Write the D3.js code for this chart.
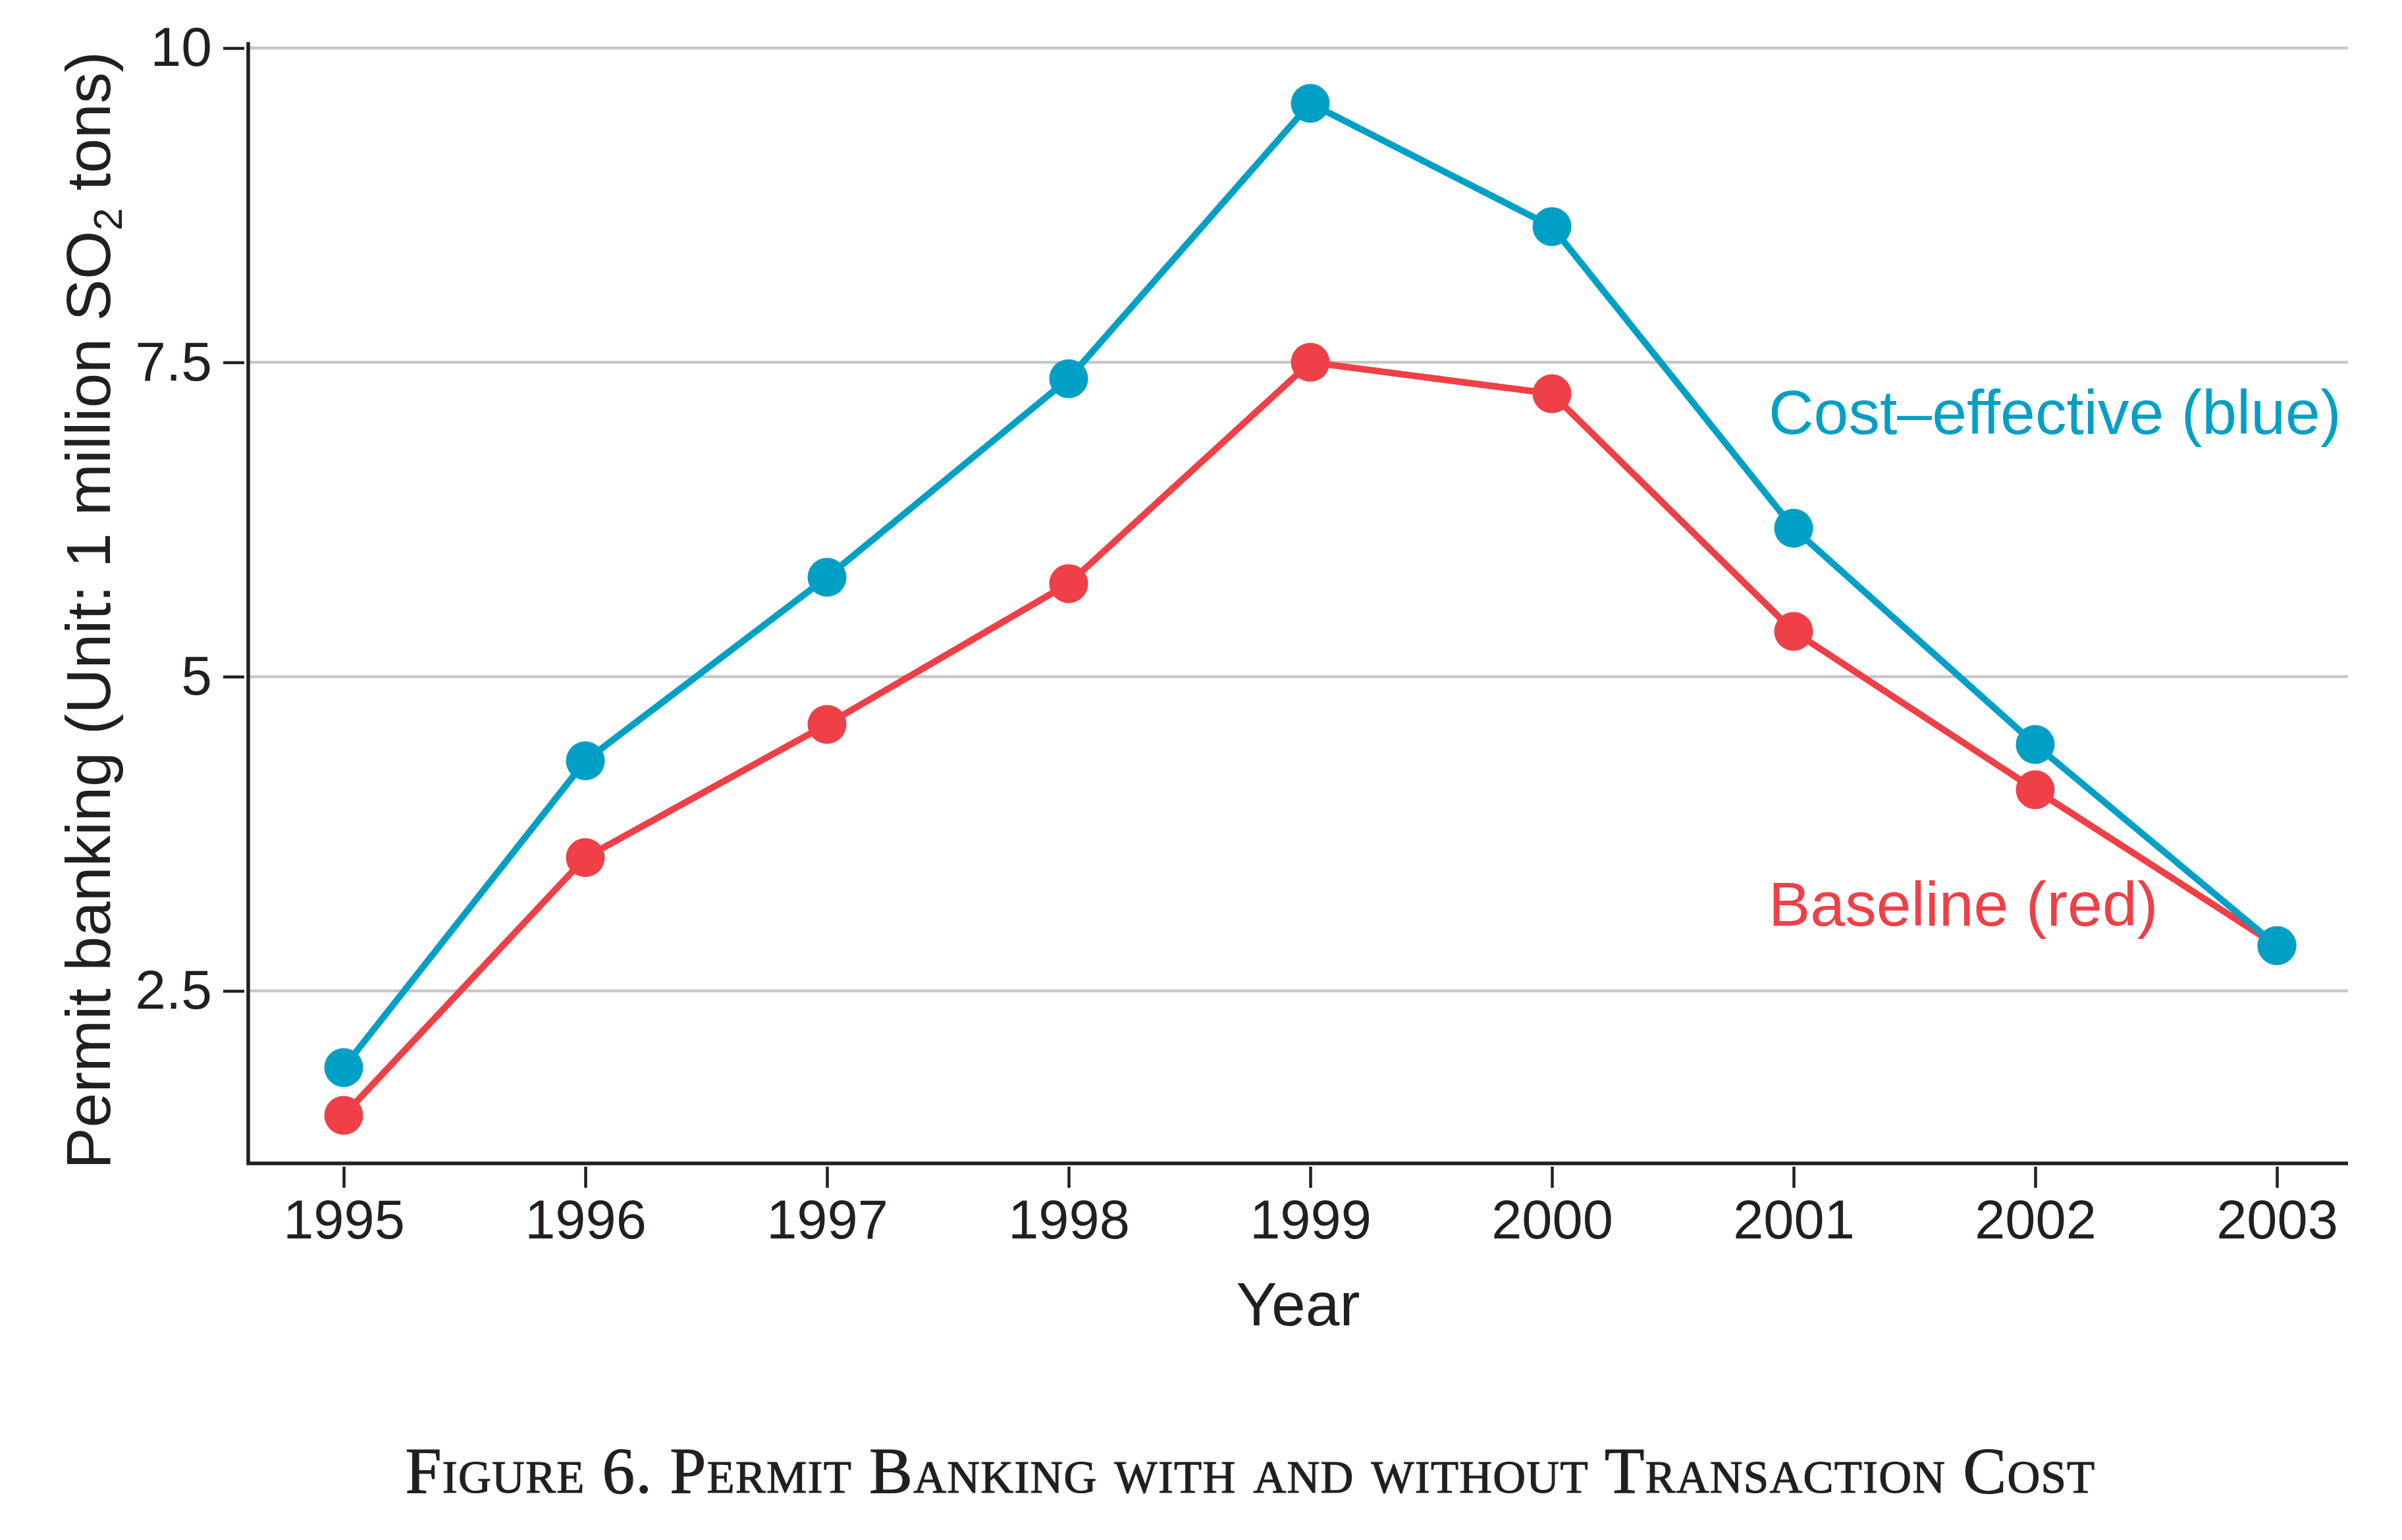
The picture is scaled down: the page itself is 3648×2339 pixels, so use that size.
<!DOCTYPE html>
<html>
<head>
<meta charset="utf-8">
<script src="https://cdn.jsdelivr.net/npm/d3@7"></script>
<style>
  body { margin: 0; background: #fff; }
  svg { display: block; }
</style>
</head>
<body>
<svg id="chart" width="3648" height="2339"></svg>
<script>
// Data
const years = [1995, 1996, 1997, 1998, 1999, 2000, 2001, 2002, 2003];
const costEffective = [1.89, 4.33, 5.79, 7.37, 9.56, 8.58, 6.18, 4.46, 2.86];
const baseline = [1.51, 3.56, 4.62, 5.74, 7.50, 7.25, 5.36, 4.10, 2.86];
const yTicks = [2.5, 5, 7.5, 10];
const yTickLabels = ["2.5", "5", "7.5", "10"];

const blue = "#00a0c6";
const red = "#ee4046";
const ink = "#231f20";
const font = "'Liberation Sans', Arial, Helvetica, sans-serif";

const svg = d3.select("#chart");

// plot frame
const plotLeft = 377, plotRight = 3566, plotTop = 64, plotBottom = 1767;

const x = d3.scaleLinear()
    .domain([1995, 2003])
    .range([522, 3458]);

const y = d3.scaleLinear()
    .domain([2.5, 10])
    .range([1505, 73]);

// gridlines
svg.append("g")
    .selectAll("line")
    .data(yTicks)
    .enter()
    .append("line")
    .attr("x1", plotLeft + 2)
    .attr("x2", plotRight)
    .attr("y1", d => y(d))
    .attr("y2", d => y(d))
    .attr("stroke", "#c8c8c8")
    .attr("stroke-width", 4.5);

// y axis (ticks sit a little off the axis line)
const yAxis = svg.append("g")
    .attr("transform", `translate(${plotLeft - 6},0)`)
    .call(d3.axisLeft(y)
        .tickValues(yTicks)
        .tickFormat((d, i) => yTickLabels[i])
        .tickSize(32)
        .tickPadding(17));
yAxis.select(".domain").remove();
yAxis.selectAll(".tick line").attr("stroke", ink).attr("stroke-width", 4.5);
yAxis.selectAll(".tick text")
    .attr("fill", ink)
    .style("font-family", font)
    .style("font-size", "84px");

// x axis
const xAxis = svg.append("g")
    .attr("transform", `translate(0,${plotBottom + 5})`)
    .call(d3.axisBottom(x)
        .tickValues(years)
        .tickFormat(d3.format("d"))
        .tickSize(32)
        .tickPadding(18));
xAxis.select(".domain").remove();
xAxis.selectAll(".tick line").attr("stroke", ink).attr("stroke-width", 4.5);
xAxis.selectAll(".tick text")
    .attr("fill", ink)
    .style("font-family", font)
    .style("font-size", "83px");

// axis lines
svg.append("path")
    .attr("d", `M${plotLeft},${plotTop} V${plotBottom} H${plotRight}`)
    .attr("fill", "none")
    .attr("stroke", ink)
    .attr("stroke-width", 5.5);

// series
const series = [
    { name: "Baseline", values: baseline, color: red },
    { name: "Cost-effective", values: costEffective, color: blue }
];

const line = d3.line()
    .x((d, i) => x(years[i]))
    .y(d => y(d));

series.forEach(s => {
    svg.append("path")
        .datum(s.values)
        .attr("d", line)
        .attr("fill", "none")
        .attr("stroke", s.color)
        .attr("stroke-width", 10)
        .attr("stroke-linejoin", "round");

    svg.append("g")
        .selectAll("circle")
        .data(s.values)
        .enter()
        .append("circle")
        .attr("cx", (d, i) => x(years[i]))
        .attr("cy", d => y(d))
        .attr("r", 29.5)
        .attr("fill", s.color);
});

// in-plot labels
svg.append("text")
    .attr("x", 2686)
    .attr("y", 659)
    .attr("fill", blue)
    .style("font-family", font)
    .style("font-size", "95px")
    .text("Cost\u2013effective (blue)");

svg.append("text")
    .attr("x", 2686)
    .attr("y", 1406)
    .attr("fill", red)
    .style("font-family", font)
    .style("font-size", "95px")
    .text("Baseline (red)");

// axis titles
svg.append("text")
    .attr("x", (plotLeft + plotRight) / 2)
    .attr("y", 2013)
    .attr("text-anchor", "middle")
    .attr("fill", ink)
    .style("font-family", font)
    .style("font-size", "93px")
    .text("Year");

const yTitle = svg.append("text")
    .attr("transform", "translate(167,927) rotate(-90)")
    .attr("text-anchor", "middle")
    .attr("fill", ink)
    .style("font-family", font)
    .style("font-size", "95px");
yTitle.append("tspan").text("Permit banking (Unit: 1 million SO");
yTitle.append("tspan").attr("dy", 18).style("font-size", "62px").text("2");
yTitle.append("tspan").attr("dy", -18).text(" tons)");

// caption
svg.append("text")
    .attr("x", 1899)
    .attr("y", 2267)
    .attr("text-anchor", "middle")
    .attr("fill", ink)
    .attr("stroke", ink)
    .attr("stroke-width", 1.2)
    .style("font-family", "'Liberation Serif', 'Times New Roman', serif")
    .style("font-size", "99px")
    .style("letter-spacing", "1.2px")
    .style("font-variant", "small-caps")
    .text("Figure 6. Permit Banking with and without Transaction Cost");
</script>
</body>
</html>
